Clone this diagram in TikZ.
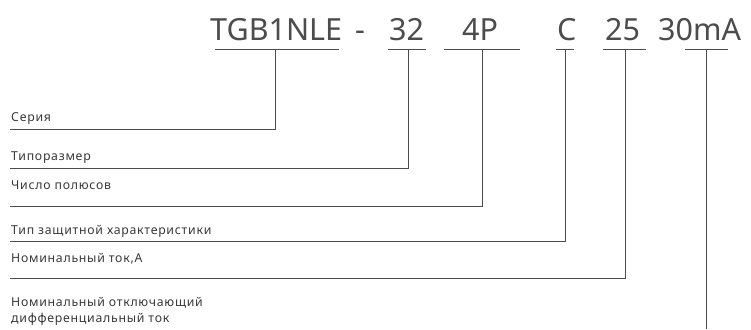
\documentclass[tikz,border=0pt]{standalone}
\usepackage{fontspec}
\setmainfont{Noto Sans}
\newfontfamily\lblfont{Noto Sans}[LetterSpace=6]
\begin{document}
\begin{tikzpicture}[x=1pt,y=-1pt,
  ttl/.style={anchor=base west,inner sep=0pt,text=black!70,font=\fontsize{30.5}{32}\selectfont},
  lbl/.style={anchor=base west,inner sep=0pt,text=black!78,font=\lblfont\fontsize{12.3}{16}\selectfont},
  ln/.style={draw=black!70,line width=0.9pt}]
\useasboundingbox (0,0) rectangle (751,329);
% title parts
\node[ttl] (t1) at (210,40.7) {TGB1NLE};
\node[ttl] (dash) at (355,40.7) {-};
\node[ttl] (t2) at (389,40.7) {32};
\node[ttl] (t3) at (462,40.7) {4P};
\node[ttl] (t4) at (557,40.7) {C};
\node[ttl] (t5) at (605,40.7) {25};
\node[ttl] (t6) at (658,40.7) {30mA};
% labels
\node[lbl] (l1) at (11,121) {Серия};
\node[lbl] (l2) at (11,160) {Типоразмер};
\node[lbl] (l3) at (11,189) {Число полюсов};
\node[lbl] (l4) at (11,234) {Тип защитной характеристики};
\node[lbl] (l5) at (11,262) {Номинальный ток,А};
\node[lbl,align=left,anchor=north west] (l6) at (11,297) {Номинальный отключающий\\дифференциальный ток};
% underlines
\draw[ln] (215,49) -- (339,49);
\draw[ln] (388,49) -- (426,49);
\draw[ln] (444,49) -- (520,49);
\draw[ln] (556,49) -- (574,49);
\draw[ln] (603,49) -- (646,49);
\draw[ln] (685,49) -- (728,49);
% connectors
\coordinate (a1) at (275,49);
\coordinate (a2) at (408,49);
\coordinate (a3) at (482,49);
\coordinate (a4) at (565,49);
\coordinate (a5) at (625,49);
\coordinate (a6) at (706,49);
\coordinate (e6) at (706,329);
\draw[ln] (a1) |- (10,129);
\draw[ln] (a2) |- (10,168);
\draw[ln] (a3) |- (10,206);
\draw[ln] (a4) |- (10,241);
\draw[ln] (a5) |- (10,278);
\draw[ln] (a6) -- (e6);
\end{tikzpicture}
\end{document}
